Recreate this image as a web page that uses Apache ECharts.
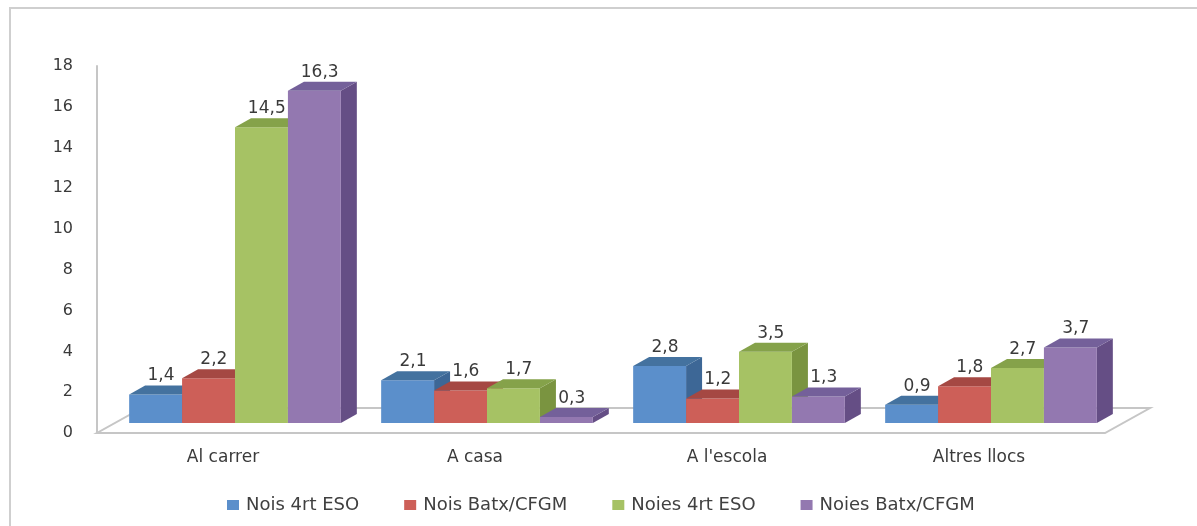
<!DOCTYPE html>
<html>
<head>
<meta charset="utf-8">
<script src="https://cdn.jsdelivr.net/npm/echarts@6/dist/echarts.min.js"></script>
<style>
  html, body { margin: 0; padding: 0; background: #fff; overflow: hidden; }
  #chart { width: 1197px; height: 526px; }
  .frame {
    position: absolute; left: 9px; top: 7px; width: 1200px; height: 530px;
    border-left: 2px solid #cfcfcf; border-top: 2px solid #cfcfcf;
    pointer-events: none;
  }
</style>
</head>
<body>
<div id="chart"></div>
<div class="frame"></div>
<script>
const categories = ['Al carrer', 'A casa', "A l'escola", 'Altres llocs']
const seriesNames = ['Nois 4rt ESO', 'Nois Batx/CFGM', 'Noies 4rt ESO', 'Noies Batx/CFGM']
const noisEso = [1.4, 2.1, 2.8, 0.9]
const noisBatx = [2.2, 1.6, 1.2, 1.8]
const noiesEso = [14.5, 1.7, 3.5, 2.7]
const noiesBatx = [16.3, 0.3, 1.3, 3.7]
const seriesValues = [noisEso, noisBatx, noiesEso, noiesBatx]

// front / top / side shades for the fake 3d boxes
const palette = [
  { front: '#5b8fcb', top: '#44729f', side: '#3d6796' },
  { front: '#cd5f58', top: '#a54843', side: '#9a413d' },
  { front: '#a6c264', top: '#85a24a', side: '#7a9440' },
  { front: '#9378b0', top: '#74609a', side: '#654e85' }
]

const BAR_SHARE = 0.21
const OFF_X = 12
const OFF_Y = -10
const DX = 16
const DY = 9
const FLOOR_DX = 45
const FLOOR_DY = 25

const fmt = v => String(v).replace('.', ',')

const barRenderer = sIdx => (params, api) => {
  const cat = api.value(0)
  const val = api.value(1)
  const base = api.coord([cat, 0])
  const top = api.coord([cat, val])
  const band = api.size([1, 0])[0]
  const w = band * BAR_SHARE
  const x0 = base[0] - 2 * w + sIdx * w + OFF_X
  const yb = base[1] + OFF_Y
  const yt = top[1] + OFF_Y
  const c = palette[sIdx]

  return {
    type: 'group',
    children: [
      {
        type: 'polygon',
        shape: { points: [[x0 + w, yt], [x0 + w + DX, yt - DY], [x0 + w + DX, yb - DY], [x0 + w, yb]] },
        style: { fill: c.side }
      },
      {
        type: 'rect',
        shape: { x: x0, y: yt, width: w, height: yb - yt },
        style: { fill: c.front }
      },
      {
        type: 'polygon',
        shape: { points: [[x0, yt], [x0 + w, yt], [x0 + w + DX, yt - DY], [x0 + DX, yt - DY]] },
        style: { fill: c.top }
      },
      {
        type: 'text',
        z2: 100,
        style: {
          x: x0 + w / 2 + DX / 3,
          y: yt - DY - 1,
          text: fmt(val),
          fill: '#3a3a3a',
          font: '17px "DejaVu Sans"',
          align: 'center',
          verticalAlign: 'bottom'
        }
      }
    ]
  }
}

const floorRenderer = (params, api) => {
  const first = api.coord([0, 0])
  const last = api.coord([categories.length - 1, 0])
  const band = api.size([1, 0])[0]
  const xl = first[0] - band / 2
  const xr = last[0] + band / 2
  const y = first[1]

  return {
    type: 'polygon',
    shape: { points: [[xl, y], [xr, y], [xr + FLOOR_DX, y - FLOOR_DY], [xl + FLOOR_DX, y - FLOOR_DY]] },
    style: { fill: '#fff', stroke: '#c6c6c6', lineWidth: 2 }
  }
}

const chart = echarts.init(document.getElementById('chart'))

chart.setOption({
  animation: false,
  grid: {
    left: 97,
    right: 92,
    top: 66,
    bottom: 93
  },
  legend: {
    top: 491,
    left: 222,
    icon: 'rect',
    itemWidth: 12,
    itemHeight: 10,
    itemGap: 45,
    textStyle: {
      fontFamily: 'DejaVu Sans',
      fontSize: 18,
      color: '#404040',
      padding: [0, 0, 0, 2]
    },
    data: seriesNames
  },
  xAxis: {
    type: 'category',
    data: categories,
    axisLine: { show: false },
    axisTick: { show: false },
    axisLabel: {
      margin: 16,
      fontFamily: 'DejaVu Sans',
      fontSize: 17,
      color: '#3a3a3a'
    }
  },
  yAxis: {
    type: 'value',
    min: 0,
    max: 18,
    interval: 2,
    splitLine: { show: false },
    axisLine: { show: true, lineStyle: { color: '#c6c6c6', width: 2 } },
    axisTick: { show: false },
    axisLabel: {
      margin: 24,
      fontFamily: 'DejaVu Sans',
      fontSize: 16,
      color: '#3a3a3a'
    }
  },
  series: [
    {
      type: 'custom',
      name: 'floor',
      z: 1,
      silent: true,
      renderItem: floorRenderer,
      data: [[0, 0]]
    },
    ...seriesNames.map((name, i) => ({
      type: 'custom',
      name,
      z: 2,
      itemStyle: { color: palette[i].front },
      renderItem: barRenderer(i),
      encode: { x: 0, y: 1 },
      data: seriesValues[i].map((v, j) => [j, v])
    }))
  ]
})
</script>
</body>
</html>
